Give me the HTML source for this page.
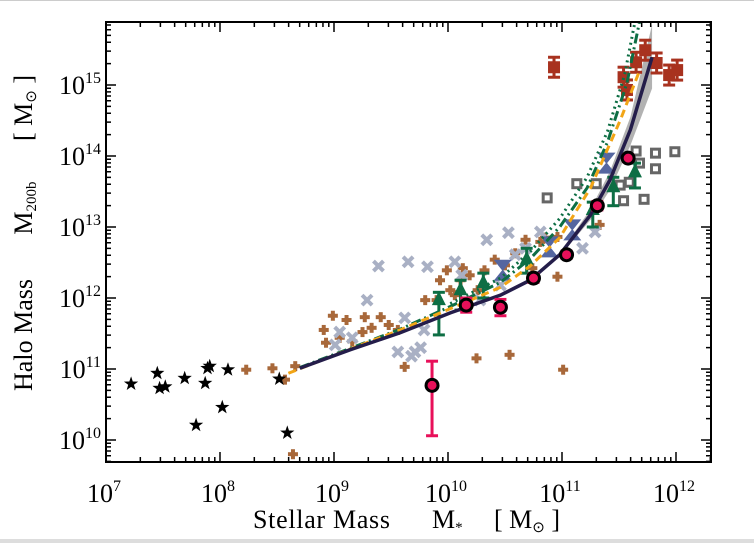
<!DOCTYPE html>
<html><head><meta charset="utf-8"><style>
html,body{margin:0;padding:0;background:#fff;}
svg{display:block;font-family:"Liberation Serif",serif;}
</style></head><body>
<svg id="chart" width="754" height="543" viewBox="0 0 754 543" xmlns="http://www.w3.org/2000/svg">
<rect x="0" y="0" width="754" height="543" fill="#fff"/>
<line x1="0" y1="0.5" x2="754" y2="0.5" stroke="#ccc"/>
<rect x="0" y="539" width="754" height="4" fill="#ddd"/>
<g id="plot"></g>
<text x="253" y="528" font-size="26" textLength="137">Stellar Mass</text>
<text x="432" y="528" font-size="26">M<tspan font-size="15" dy="4">*</tspan></text>
<text x="494" y="528" font-size="26">[ M<tspan font-size="15" dy="4">⊙</tspan><tspan dy="-4"> ]</tspan></text>
<g transform="translate(32,0) rotate(-90)">
<text x="-335" y="0" font-size="26" text-anchor="middle">Halo Mass</text>
<text x="-208" y="0" font-size="26" text-anchor="middle">M<tspan font-size="15" dy="4">200b</tspan></text>
<text x="-108" y="0" font-size="26" text-anchor="middle">[ M<tspan font-size="15" dy="4">⊙</tspan><tspan dy="-4"> ]</tspan></text>
</g>
</svg>
<script>
const xTicks=[7,8,9,10,11,12];
const yTicks=[10,11,12,13,14,15];
const starX=[7.22,7.45,7.47,7.52,7.69,7.89,7.87,7.91,8.07,8.02,7.79,8.52,8.59];
const starY=[10.79,10.94,10.73,10.75,10.87,11.01,10.80,11.04,10.99,10.46,10.21,10.86,10.10];
const brownX=[8.23,8.46,8.57,8.66,8.91,8.93,8.99,9.05,9.11,9.27,9.33,9.41,9.48,9.56,9.62,9.16,9.25,8.64,9.80,9.90,10.02,10.11,10.19,10.26,10.32,10.41,10.50,10.59,10.68,10.81,10.85,10.06,9.99,10.13,10.74,10.96,10.25,10.54,11.01,11.33,10.96,9.93];
const brownY=[10.99,11.01,10.85,11.04,11.55,11.37,11.75,11.44,11.69,11.73,11.58,11.73,11.62,11.55,11.03,11.39,11.52,9.80,11.97,11.97,12.11,12.25,12.32,12.11,12.39,12.54,12.46,12.63,12.82,12.79,12.85,12.04,12.39,12.42,12.42,12.30,11.15,11.20,10.99,13.03,12.86,12.25];
const crossX=[9.01,9.16,9.29,9.39,9.65,9.79,9.62,9.56,9.71,9.76,9.68,10.34,10.53,9.82,10.06,10.12,10.28,10.46,10.59,10.68,10.81,11.18,11.29,9.05];
const crossY=[11.34,11.44,11.97,12.45,12.51,11.55,11.72,11.24,11.24,11.30,11.18,12.82,12.92,12.44,12.51,12.32,11.97,12.18,12.61,12.70,12.93,12.70,12.93,11.52];
const sqX=[10.87,11.13,11.30,11.51,11.65,11.82,11.99,11.68,11.82,11.54,11.72,11.59];
const sqY=[13.41,13.61,13.61,13.59,14.07,14.04,14.06,13.90,13.82,13.37,13.39,13.63];
const triX=[9.92,10.11,10.31,10.69,11.27,11.45,11.64];
const triY=[11.97,12.11,12.21,12.54,13.24,13.56,13.77];
const triHi=[12.08,12.25,12.35,12.70,13.35,13.70,13.90];
const triLo=[11.48,11.83,12.00,12.35,13.00,13.30,13.55];
const hgX=[10.48,10.89,11.09,11.39];
const hgY=[12.39,12.72,12.96,13.90];
const rsX=[10.93,11.54,11.57,11.65,11.73,11.83,11.94,12.01];
const rsY=[15.25,15.11,14.93,15.32,15.49,15.31,15.14,15.21];
const circX=[9.86,10.16,10.46,10.75,11.04,11.31,11.58];
const circY=[10.77,11.90,11.87,12.28,12.61,13.30,13.97];
const circHi=[11.11,12.00,11.98,12.34,12.66,13.36,14.02];
const circLo=[10.06,11.80,11.75,12.22,12.56,13.24,13.92];
const fitX=[8.70,9.14,9.58,10.02,10.46,10.72,10.98,11.25,11.42,11.60,11.79];
const fitY=[11.01,11.27,11.51,11.79,12.04,12.25,12.61,13.17,13.66,14.37,15.39];
const bandX=[10.98,11.25,11.42,11.60,11.79,11.79];
const bandHi=[12.63,13.25,13.78,14.55,15.85,15.85];
const bandLo=[12.59,13.10,13.52,14.15,14.95,14.95];
const orX=[8.60,9.14,9.58,10.02,10.46,10.72,10.98,11.25,11.51,11.68];
const orY=[10.94,11.28,11.55,11.85,12.15,12.45,12.85,13.55,14.50,15.20];
const gdX=[8.70,9.58,10.02,10.46,10.72,10.98,11.22,11.40,11.57,11.68];
const gdY=[11.02,11.56,11.88,12.22,12.55,13.00,13.55,14.20,15.03,15.89];
const gtX=[10.02,10.46,10.72,10.98,11.22,11.40,11.55,11.64];
const gtY=[11.92,12.28,12.65,13.12,13.70,14.35,15.15,15.89];

const X=v=>106+114*(v-7);
const Y=v=>440-71*(v-10);
const NS='http://www.w3.org/2000/svg';
const plot=document.getElementById('plot');
function mk(tag,attrs,parent){const e=document.createElementNS(NS,tag);for(const k in attrs)e.setAttribute(k,attrs[k]);(parent||plot).appendChild(e);return e;}
const L=106,R=711,T=22,B=462;
let bp=bandX.map((v,i)=>X(v)+','+Y(bandHi[i])).join(' ')+' '+bandX.slice().reverse().map((v,i)=>X(v)+','+Y(bandLo[bandLo.length-1-i])).join(' ');
let band=mk('polygon',{points:bp,fill:'#aaa',opacity:'0.9'});


function pts(xs,ys){return xs.map((v,i)=>X(v)+','+Y(ys[i])).join(' ');}
brownX.forEach((v,i)=>{const g=mk('g',{transform:`translate(${X(v)},${Y(brownY[i])})`,fill:'#a8683a'});


mk('rect',{x:-5,y:-2,width:10,height:4},g);mk('rect',{x:-2,y:-5,width:4,height:10},g);});
crossX.forEach((v,i)=>{const g=mk('g',{transform:`translate(${X(v)},${Y(crossY[i])})`,stroke:'#a9b0c4','stroke-width':4});


mk('line',{x1:-5,y1:-5,x2:5,y2:5},g);mk('line',{x1:-5,y1:5,x2:5,y2:-5},g);});
sqX.forEach((v,i)=>{const r=mk('rect',{x:X(v)-4,y:Y(sqY[i])-4,width:8,height:8,fill:'none',stroke:'#666','stroke-width':3});

});
rsX.forEach((v,i)=>{const g=mk('g',{transform:`translate(${X(v)},${Y(rsY[i])})`,fill:'#a8321f',stroke:'#a8321f'});


mk('line',{x1:0,y1:-10,x2:0,y2:10,'stroke-width':3},g);mk('line',{x1:-6,y1:-10,x2:6,y2:-10,'stroke-width':3},g);mk('line',{x1:-6,y1:10,x2:6,y2:10,'stroke-width':3},g);
mk('rect',{x:-6,y:-6,width:12,height:12,stroke:'none'},g);});
hgX.forEach((v,i)=>{const g=mk('g',{transform:`translate(${X(v)},${Y(hgY[i])})`,fill:'#5566a0',stroke:'#5566a0'});


mk('polygon',{points:'-8,-10 8,-10 0,0 -8,10 8,10 0,0'},g);});
triX.forEach((v,i)=>{const g=mk('g',{fill:'#0d6e44',stroke:'#0d6e44'});


const x=X(v),y=Y(triY[i]),h=Y(triHi[i]),l=Y(triLo[i]);
mk('line',{x1:x,y1:h,x2:x,y2:l,'stroke-width':3},g);mk('line',{x1:x-6,y1:h,x2:x+6,y2:h,'stroke-width':3},g);mk('line',{x1:x-6,y1:l,x2:x+6,y2:l,'stroke-width':3},g);
mk('polygon',{points:`${x},${y-9} ${x-7},${y+5} ${x+7},${y+5}`,stroke:'none'},g);});
starX.forEach((v,i)=>{const x=X(v),y=Y(starY[i]);let p=[];for(let k=0;k<10;k++){const r=k%2?3:7.5,a=-Math.PI/2+k*Math.PI/5;p.push((x+r*Math.cos(a)).toFixed(1)+','+(y+r*Math.sin(a)).toFixed(1));}
const s=mk('polygon',{points:p.join(' '),fill:'#000'});

});
let l1=mk('polyline',{points:pts(gtX,gtY),fill:'none',stroke:'#0d6e44','stroke-width':3,'stroke-dasharray':'2 4'});


let l2=mk('polyline',{points:pts(gdX,gdY),fill:'none',stroke:'#0d6e44','stroke-width':3,'stroke-dasharray':'10 4 2 4'});


let l3=mk('polyline',{points:pts(orX,orY),fill:'none',stroke:'#f2a516','stroke-width':3,'stroke-dasharray':'8 5'});


let l4=mk('polyline',{points:pts(fitX,fitY),fill:'none',stroke:'#241d4a','stroke-width':3.5});


circX.forEach((v,i)=>{const g=mk('g',{});


const x=X(v),y=Y(circY[i]),h=Y(circHi[i]),l=Y(circLo[i]);
mk('line',{x1:x,y1:h,x2:x,y2:l,stroke:'#e8105a','stroke-width':3},g);mk('line',{x1:x-6,y1:h,x2:x+6,y2:h,stroke:'#e8105a','stroke-width':3},g);mk('line',{x1:x-6,y1:l,x2:x+6,y2:l,stroke:'#e8105a','stroke-width':3},g);
mk('circle',{cx:x,cy:y,r:6,fill:'#e8105a',stroke:'#000','stroke-width':3},g);});
let fr=mk('rect',{x:L,y:T,width:R-L,height:B-T,fill:'none',stroke:'#000','stroke-width':2});


const ax=mk('g',{stroke:'#000','stroke-width':1.5});


for(let d=7;d<=12;d++)for(let m=1;m<10;m++){const v=d+Math.log10(m);const x=X(v);if(x>R)continue;const len=m==1?10:5;
mk('line',{x1:x,y1:B,x2:x,y2:B-len},ax);mk('line',{x1:x,y1:T,x2:x,y2:T+len},ax);}
for(let d=9;d<=16;d++)for(let m=1;m<10;m++){const v=d+Math.log10(m);const y=Y(v);if(y<T||y>B)continue;const len=m==1?10:5;
mk('line',{x1:L,y1:y,x2:L+len,y2:y},ax);mk('line',{x1:R,y1:y,x2:R-len,y2:y},ax);}
xTicks.forEach(v=>{const t=mk('text',{x:X(v)-2,y:502,'font-size':26,'text-anchor':'middle'});


t.innerHTML=`10<tspan font-size="16" dy="-11">${v}</tspan>`;});
yTicks.forEach(v=>{const t=mk('text',{x:101,y:Y(v)+9,'font-size':26,'text-anchor':'end'});


t.innerHTML=`10<tspan font-size="16" dy="-11">${v}</tspan>`;});
</script>
</body></html>
